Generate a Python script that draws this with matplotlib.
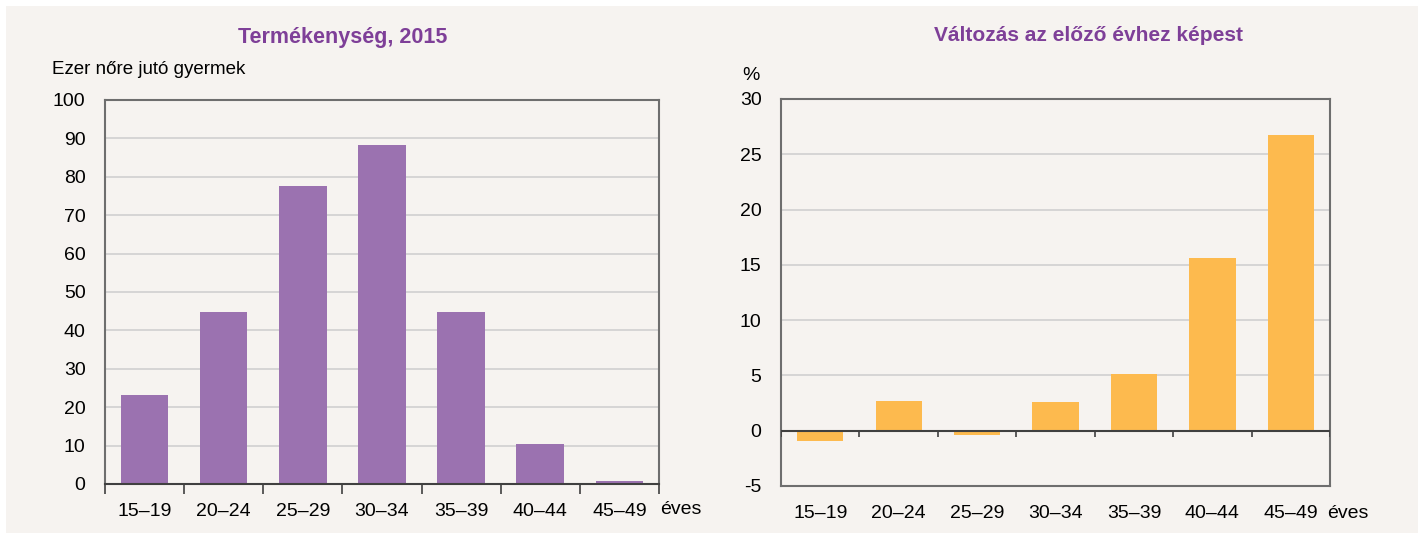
import matplotlib.pyplot as plt
import matplotlib.patches as mpatches
import numpy as np

plt.rcParams['font.family'] = ['Liberation Sans Narrow', 'Liberation Sans', 'DejaVu Sans']
plt.rcParams['axes.unicode_minus'] = False

age_groups = ['15–19', '20–24', '25–29', '30–34', '35–39', '40–44', '45–49']
fertility_2015 = [23.2, 44.8, 77.6, 88.3, 44.8, 10.4, 0.8]
change_pct = [-0.9, 2.7, -0.4, 2.6, 5.1, 15.6, 26.7]

BG = '#F6F3F0'
PURPLE = '#9B72B0'
ORANGE = '#FDBA4E'
TITLE = '#7E3F98'
SPINE = '#6E6E6E'
GRID = '#D0D0D0'


def style_axes(ax):
    ax.set_facecolor(BG)
    for s in ax.spines.values():
        s.set_color(SPINE)
        s.set_linewidth(1.5)
    ax.yaxis.grid(True, color=GRID, linewidth=1.2)
    ax.set_axisbelow(True)
    ax.tick_params(axis='y', length=0, labelsize=14, pad=14)
    ax.tick_params(axis='x', length=0, labelsize=14, pad=14)


fig = plt.figure(figsize=(14.18, 5.33), dpi=100)
fig.patch.set_facecolor('white')
fig.patches.append(mpatches.Rectangle((6 / 1418, -0.01), 1.01, 1.01 - 6 / 533,
                                      transform=fig.transFigure,
                                      facecolor=BG, edgecolor='none', zorder=-10))

x = np.arange(len(age_groups))

# left: fertility
ax1 = fig.add_axes([0.074, 0.092, 0.3907, 0.7205])
style_axes(ax1)
ax1.bar(x, fertility_2015, width=0.6, color=PURPLE, zorder=2)
ax1.set_xlim(-0.5, len(age_groups) - 0.5)
ax1.set_ylim(0, 100)
ax1.set_yticks(np.arange(0, 101, 10))
ax1.set_xticks(x)
ax1.set_xticklabels(age_groups)
ax1.set_xticks(np.arange(-0.5, len(age_groups)), minor=True)
ax1.tick_params(axis='x', which='minor', length=7, width=1.2, color='#404040', direction='out')
ax1.spines['bottom'].set_color('#404040')
ax1.set_title('Termékenység, 2015', color=TITLE, fontsize=15.5, fontweight='bold',
              x=0.43, pad=41)
fig.text(52 / 1418, 1 - 70 / 533, 'Ezer nőre jutó gyermek', fontsize=13.5, va='center')
fig.text(660 / 1418, 1 - 510 / 533, 'éves', fontsize=14, va='center')

# right: change
ax2 = fig.add_axes([0.5508, 0.0882, 0.3872, 0.7261])
style_axes(ax2)
ax2.bar(x, change_pct, width=0.59, color=ORANGE, zorder=2)
ax2.set_xlim(-0.5, len(age_groups) - 0.5)
ax2.set_ylim(-5, 30)
ax2.set_yticks(np.arange(-5, 31, 5))
ax2.set_xticks(x)
ax2.set_xticklabels(age_groups)
ax2.axhline(0, color='#404040', linewidth=1.5, zorder=3)
ax2.vlines(np.arange(-0.5, len(age_groups)), -0.6, 0, color='#404040', linewidth=1.2, zorder=3)
ax2.set_title('Változás az előző évhez képest', color=TITLE, fontsize=15, fontweight='bold',
              x=0.56, pad=42)
fig.text(742 / 1418, 1 - 75 / 533, '%', fontsize=14, va='center')
fig.text(1327 / 1418, 1 - 513 / 533, 'éves', fontsize=14, va='center')

fig.savefig('out.png', dpi=100, facecolor=fig.get_facecolor())
